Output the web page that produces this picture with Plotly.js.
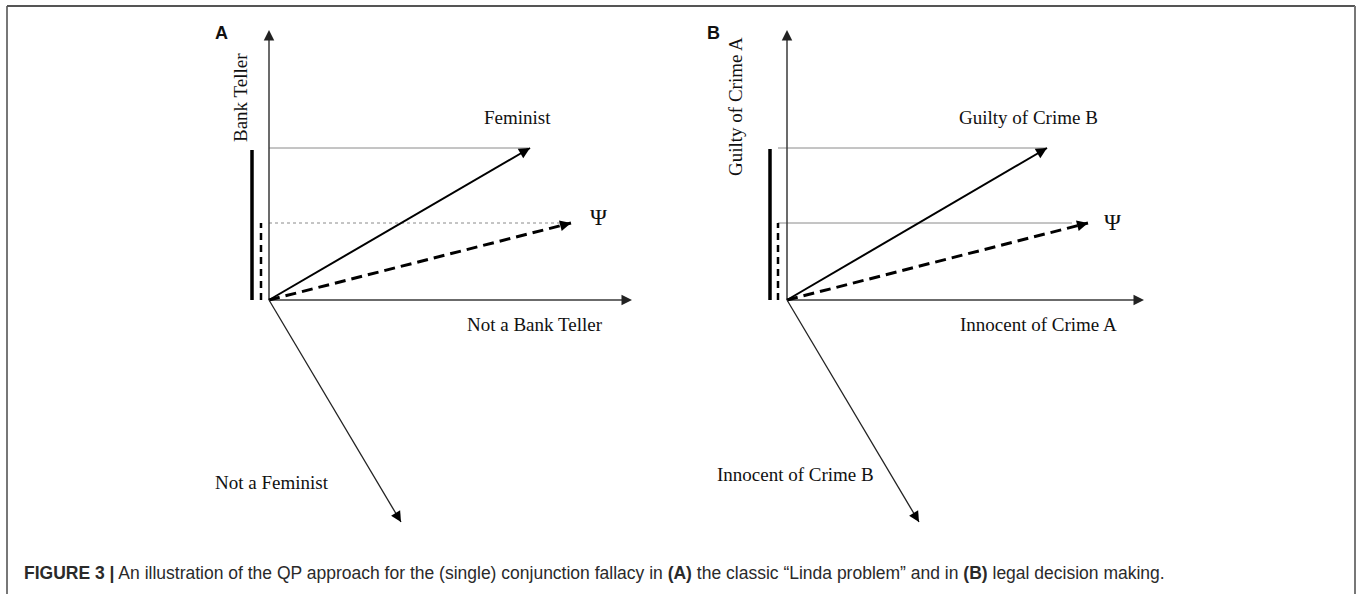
<!DOCTYPE html>
<html><head><meta charset="utf-8">
<script src="https://cdn.plot.ly/plotly-3.0.1.min.js"></script>
<style>html,body{margin:0;padding:0;background:#fff;overflow:hidden}#chart{width:1357px;height:594px}</style>
</head><body><div id="chart"></div>
<script>
// ---- data: vector components relative to each panel's origin (y up) ----
const panelLetters = ['A', 'B'];
const axisUpLen = [270, 270];
const axisRightLen = [363, 357];
const vectorMain = [[261, 152], [260, 152]];   // Feminist / Guilty of Crime B
const vectorPsi = [[302, 77], [301, 77]];      // Ψ
const vectorNeg = [[132, -222], [132, -222]];  // Not a Feminist / Innocent of Crime B
const projStartX = [0, -9];
const projMainEndX = [259, 260];
const projPsiEndX = [298, 285];
const barMainX = [-17, -17];
const barMainLen = [150, 151];
const barPsiX = [-8, -9];
const barPsiLen = [77, 77];
const axisUpNames = ['Bank Teller', 'Guilty of Crime A'];
const axisRightNames = ['Not a Bank Teller', 'Innocent of Crime A'];
const mainNames = ['Feminist', 'Guilty of Crime B'];
const negNames = ['Not a Feminist', 'Innocent of Crime B'];
const psiName = 'Ψ';
const captionText = '<b>FIGURE 3 |</b> An illustration of the QP approach for the (single) conjunction fallacy in <b>(A)</b> the classic \u201cLinda problem\u201d and in <b>(B)</b> legal decision making.';

// ---- layout constants ----
const W = 1357, H = 594;
const originX = [269, 787], originY = 300;
const serif = 'Liberation Serif, Times New Roman, serif';
const traces = [];
const annotations = [];

function head(xr, yr, tip, len, color, width, size) {
  const n = Math.hypot(tip[0], tip[1]);
  const ux = tip[0] / n, uy = tip[1] / n;
  annotations.push({xref: xr, yref: yr, axref: xr, ayref: yr, x: tip[0], y: tip[1],
    ax: tip[0] - ux * len, ay: tip[1] - uy * len, text: '', showarrow: true,
    arrowhead: 2, arrowsize: size, arrowwidth: width, arrowcolor: color, standoff: 0});
}
function seg(xa, ya, xs, ys, color, width, dash) {
  traces.push({type: 'scatter', mode: 'lines', x: xs, y: ys, xaxis: xa, yaxis: ya,
    hoverinfo: 'skip', showlegend: false, line: {color: color, width: width, dash: dash || 'solid'}});
}

const labelPos = [
  {letter: [-48, 267], up: [-29, 202], main: [248, 183], psi: [329, 83], right: [266, -24], neg: [3, -182]},
  {letter: [-74, 267], up: [-52, 193], main: [241, 183], psi: [325, 78], right: [251, -24], neg: [8, -174]}
];

for (let p = 0; p < 2; p++) {
  const xa = p === 0 ? 'x' : 'x2', ya = p === 0 ? 'y' : 'y2';
  // projection lines
  seg(xa, ya, [projStartX[p], projMainEndX[p]], [vectorMain[p][1], vectorMain[p][1]], '#8a8a8a', 1);
  seg(xa, ya, [projStartX[p], projPsiEndX[p]], [vectorPsi[p][1], vectorPsi[p][1]], '#8a8a8a', 1, p === 0 ? 'dot' : 'solid');
  // axes
  seg(xa, ya, [0, 0], [0, axisUpLen[p] - 4], '#3a3a3a', 1.5);
  seg(xa, ya, [0, axisRightLen[p] - 4], [0, 0], '#3a3a3a', 1.5);
  head(xa, ya, [0, axisUpLen[p]], 6, '#222', 1.5, 1.4);
  head(xa, ya, [axisRightLen[p], 0], 6, '#222', 1.5, 1.4);
  // probability bars
  seg(xa, ya, [barMainX[p], barMainX[p]], [0, barMainLen[p]], '#000', 3.5);
  seg(xa, ya, [barPsiX[p], barPsiX[p]], [0, barPsiLen[p]], '#000', 2.5, '7px,5px');
  // vectors
  seg(xa, ya, [0, vectorMain[p][0]], [0, vectorMain[p][1]], '#000', 2);
  head(xa, ya, vectorMain[p], 6, '#000', 2, 1.1);
  seg(xa, ya, [0, vectorPsi[p][0]], [0, vectorPsi[p][1]], '#000', 3, '11px,6px');
  head(xa, ya, vectorPsi[p], 6, '#000', 2, 1.1);
  seg(xa, ya, [0, vectorNeg[p][0]], [0, vectorNeg[p][1]], '#222', 1.3);
  head(xa, ya, vectorNeg[p], 6, '#000', 1.5, 1.4);
  // labels
  const L = labelPos[p];
  const tf = {family: serif, size: 19, color: '#111'};
  annotations.push({xref: xa, yref: ya, x: L.letter[0], y: L.letter[1], text: '<b>' + panelLetters[p] + '</b>', showarrow: false,
    font: {family: 'Liberation Sans, Arial, sans-serif', size: 18, color: '#111'}});
  annotations.push({xref: xa, yref: ya, x: L.up[0], y: L.up[1], text: axisUpNames[p], textangle: -90, showarrow: false, font: tf});
  annotations.push({xref: xa, yref: ya, x: L.main[0], y: L.main[1], text: mainNames[p], showarrow: false, font: tf});
  annotations.push({xref: xa, yref: ya, x: L.psi[0], y: L.psi[1], text: psiName, showarrow: false,
    font: {family: serif, size: 23, color: '#111'}});
  annotations.push({xref: xa, yref: ya, x: L.right[0], y: L.right[1], text: axisRightNames[p], showarrow: false, font: tf});
  annotations.push({xref: xa, yref: ya, x: L.neg[0], y: L.neg[1], text: negNames[p], showarrow: false, font: tf});
}

annotations.push({xref: 'paper', yref: 'paper', x: 22 / W, y: 1 - 573 / H, xanchor: 'left', yanchor: 'middle',
  text: captionText, showarrow: false, font: {family: 'Liberation Sans, Arial, sans-serif', size: 17.5, color: '#2a2a2a'}});

const hid = {visible: false, showgrid: false, zeroline: false, fixedrange: true};
const layout = {
  width: W, height: H, margin: {l: 0, r: 0, t: 0, b: 0},
  paper_bgcolor: '#fff', plot_bgcolor: '#fff', showlegend: false,
  xaxis: Object.assign({domain: [0, 1], range: [-originX[0], W - originX[0]], anchor: 'y'}, hid),
  yaxis: Object.assign({domain: [0, 1], range: [-(H - originY), originY], anchor: 'x'}, hid),
  xaxis2: Object.assign({overlaying: 'x', range: [-originX[1], W - originX[1]], anchor: 'y2'}, hid),
  yaxis2: Object.assign({overlaying: 'y', range: [-(H - originY), originY], anchor: 'x2'}, hid),
  annotations: annotations,
  shapes: [
    {type: 'line', xref: 'paper', yref: 'paper', x0: 7 / W, x1: 7 / W, y0: 0, y1: 1 - 6 / H, line: {color: '#777', width: 2}},
    {type: 'line', xref: 'paper', yref: 'paper', x0: 7 / W, x1: 1355 / W, y0: 1 - 6 / H, y1: 1 - 6 / H, line: {color: '#555', width: 2}},
    {type: 'line', xref: 'paper', yref: 'paper', x0: 1355 / W, x1: 1355 / W, y0: 0, y1: 1 - 6 / H, line: {color: '#777', width: 2}}
  ]
};
Plotly.newPlot('chart', traces, layout, {staticPlot: true, displayModeBar: false});
</script></body></html>
